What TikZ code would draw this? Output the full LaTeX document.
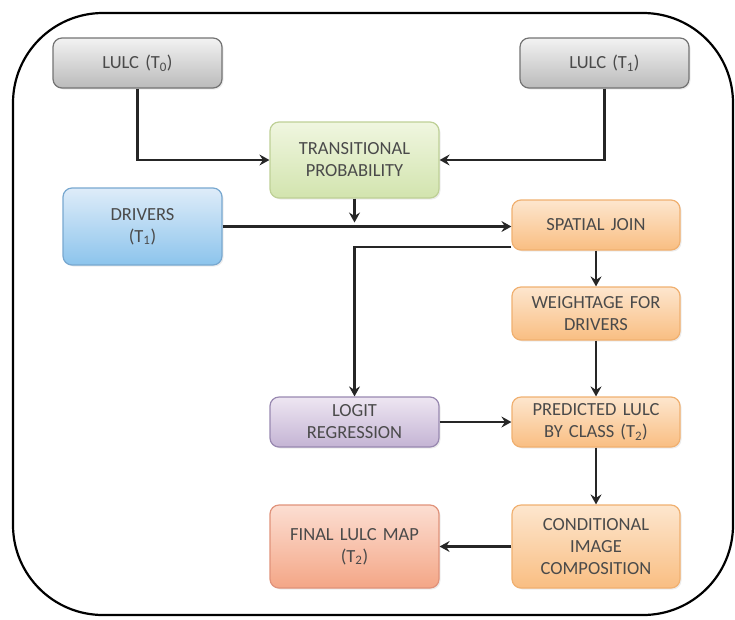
\documentclass[tikz,border=0pt]{standalone}
\usepackage{fontspec}
\setmainfont{Carlito}[WordSpace=0.7]
\usetikzlibrary{arrows.meta,shadows}
\definecolor{txtgray}{HTML}{4A4A4A}
\tikzset{
  proc/.style={rounded corners=9pt, minimum height=50pt, text width=150pt, align=center,
    inner sep=2pt, line width=1.2pt, text=txtgray, font=\fontsize{18.5}{22}\selectfont,
    drop shadow={opacity=0.15, shadow xshift=1.5pt, shadow yshift=-1.5pt}},
  grey box/.style={proc, draw=black!55, top color=black!5, bottom color=black!27},
  green box/.style={proc, draw={rgb,255:red,190;green,208;blue,150}, top color={rgb,255:red,240;green,246;blue,224}, bottom color={rgb,255:red,210;green,228;blue,174}},
  blue box/.style={proc, draw={rgb,255:red,120;green,168;blue,208}, top color={rgb,255:red,222;green,236;blue,249}, bottom color={rgb,255:red,140;green,196;blue,236}},
  orange box/.style={proc, draw={rgb,255:red,240;green,176;blue,112}, top color={rgb,255:red,253;green,230;blue,206}, bottom color={rgb,255:red,249;green,190;blue,130}},
  purple box/.style={proc, draw={rgb,255:red,152;green,136;blue,176}, top color={rgb,255:red,238;green,230;blue,242}, bottom color={rgb,255:red,196;green,180;blue,212}},
  salmon box/.style={proc, draw={rgb,255:red,224;green,146;blue,122}, top color={rgb,255:red,252;green,222;blue,210}, bottom color={rgb,255:red,244;green,166;blue,134}},
  flow/.style={draw=black!85, line width=2.2pt, -{Stealth[length=10pt,width=11pt,inset=3.5pt]}},
}
\begin{document}
\begin{tikzpicture}[x=1pt, y=-1pt]
  \useasboundingbox (0,0) rectangle (735,619);
  \draw[line width=2.2pt, rounded corners=90pt] (13,13) rectangle (733,615);
  % inputs
  \node[grey box, text width=165pt] (lulc0) at (137.5,63) {LULC (T\textsubscript{0})};
  \node[grey box, text width=165pt] (lulc1) at (604.5,63) {LULC (T\textsubscript{1})};
  \node[green box, text width=165pt, minimum height=76pt] (trans) at (354.5,160) {TRANSITIONAL\\PROBABILITY};
  \node[blue box, text width=155pt, minimum height=77pt] (drivers) at (142.5,226.5) {DRIVERS\\(T\textsubscript{1})};
  % model chain
  \node[orange box, text width=164pt] (join) at (596,225) {SPATIAL JOIN};
  \node[orange box, text width=164pt, minimum height=53pt] (weight) at (596,313.5) {WEIGHTAGE FOR\\DRIVERS};
  \node[purple box, text width=165pt] (logit) at (354.5,422) {LOGIT\\REGRESSION};
  \node[orange box, text width=164pt] (pred) at (596,422) {PREDICTED LULC\\BY CLASS (T\textsubscript{2})};
  \node[orange box, text width=164pt, minimum height=83pt] (cond) at (596,546.5) {CONDITIONAL\\IMAGE\\COMPOSITION};
  \node[salmon box, text width=165pt, minimum height=83pt] (final) at (354.5,546.5) {FINAL LULC MAP\\(T\textsubscript{2})};
  \coordinate (tdrop) at (trans.south |- drivers.east);
  \draw[flow] (lulc0.south) |- (trans.west);
  \draw[flow] (lulc1.south) |- (trans.east);
  \draw[flow] (trans.south) -- ([yshift=4pt]tdrop);
  \draw[flow] (drivers.east) -- (drivers.east -| join.west);
  \draw[flow] ([yshift=-22pt]join.west) -| (logit.north);
  \draw[flow] (join.south) -- (weight.north);
  \draw[flow] (weight.south) -- (pred.north);
  \draw[flow] (logit.east) -- (pred.west);
  \draw[flow] (pred.south) -- (cond.north);
  \draw[flow] (cond.west) -- (final.east);
\end{tikzpicture}
\end{document}
